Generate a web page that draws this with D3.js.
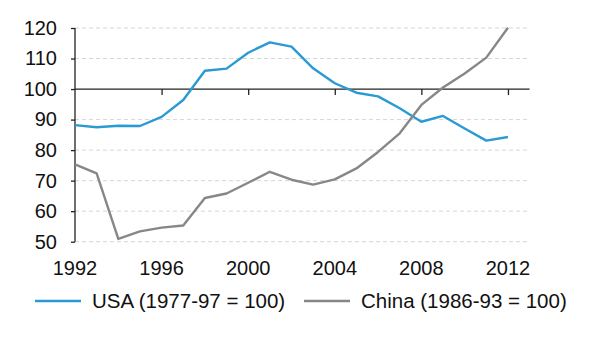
<!DOCTYPE html>
<html>
<head>
<meta charset="utf-8">
<script src="https://cdn.jsdelivr.net/npm/d3@7"></script>
<style>
  body { margin: 0; background: #fff; }
  svg text { font-family: "Liberation Sans", Arial, sans-serif; fill: #111; }
</style>
</head>
<body>
<div class="chart"></div>
<script>
const years = d3.range(1992, 2013);
const usa = [88.2, 87.5, 88.0, 87.9, 90.9, 96.4, 106.0, 106.7, 111.9, 115.3, 113.9,
             106.8, 101.9, 98.8, 97.6, 93.7, 89.3, 91.2, 87.1, 83.1, 84.3];
const china = [75.3, 72.4, 50.9, 53.4, 54.6, 55.3, 64.3, 65.8, 69.3, 72.9, 70.3,
               68.7, 70.4, 74.0, 79.4, 85.5, 94.8, 100.5, 105.1, 110.3, 120.1];
const yTicks = [50, 60, 70, 80, 90, 100, 110, 120];
const xTicks = [1992, 1996, 2000, 2004, 2008, 2012];
const seriesNames = ["USA (1977-97 = 100)", "China (1986-93 = 100)"];
const colors = ["#2a9ad4", "#878787"];

const width = 603, height = 353;
const x = d3.scaleLinear().domain([1992, 2013]).range([75, 529.6]);
const y = d3.scaleLinear().domain([50, 120]).range([241.7, 28]);

const svg = d3.select(".chart").append("svg")
  .attr("width", width).attr("height", height);

// gridlines
svg.append("g").selectAll("line")
  .data(yTicks.filter(d => d !== 100)).enter()
  .append("line")
    .attr("x1", x(1992)).attr("x2", x(2013))
    .attr("y1", d => y(d)).attr("y2", d => y(d))
    .attr("stroke", "#d6d6d6").attr("stroke-width", 1)
    .attr("stroke-dasharray", "4,3");

// 100 baseline with ticks
const base = d3.axisBottom(x).tickValues(xTicks.slice(1)).tickSize(6).tickFormat("");
svg.append("g")
  .attr("transform", `translate(0, ${y(100)})`)
  .call(base)
  .call(g => g.select(".domain").attr("d", `M${x(1992)},0H${x(2013)}`))
  .call(g => g.selectAll("line, path").attr("stroke", "#222").attr("stroke-width", 1.3));

// y axis
const yAxis = d3.axisLeft(y).tickValues(yTicks).tickSize(4).tickPadding(14);
svg.append("g")
  .attr("transform", `translate(${x(1992)}, 0)`)
  .call(yAxis)
  .call(g => g.select(".domain").attr("d", `M0,${y(120)}V${y(50)}`))
  .call(g => g.selectAll("line, path").attr("stroke", "#222").attr("stroke-width", 1.3))
  .call(g => g.selectAll("text").style("font-size", "20px").attr("fill", "#111"));

// year labels
svg.append("g").selectAll("text")
  .data(xTicks).enter()
  .append("text")
    .attr("x", d => x(d)).attr("y", 274.5)
    .attr("text-anchor", "middle")
    .style("font-size", "20px")
    .text(d => d);

// lines
const line = d3.line().x((d, i) => x(years[i])).y(d => y(d));
[usa, china].forEach((s, i) => {
  svg.append("path")
    .datum(s)
    .attr("d", line)
    .attr("fill", "none")
    .attr("stroke", colors[i])
    .attr("stroke-width", 2.4)
    .attr("stroke-linejoin", "round");
});

// legend
const legendX = [35, 304];
const legend = svg.append("g").selectAll("g")
  .data(seriesNames).enter()
  .append("g")
    .attr("transform", (d, i) => `translate(${legendX[i]}, 301)`);
legend.append("line")
  .attr("x1", 0).attr("x2", 46)
  .attr("stroke", (d, i) => colors[i]).attr("stroke-width", 2.4);
legend.append("text")
  .attr("x", 57).attr("y", 6.8)
  .style("font-size", "20.5px")
  .text(d => d);
</script>
</body>
</html>
